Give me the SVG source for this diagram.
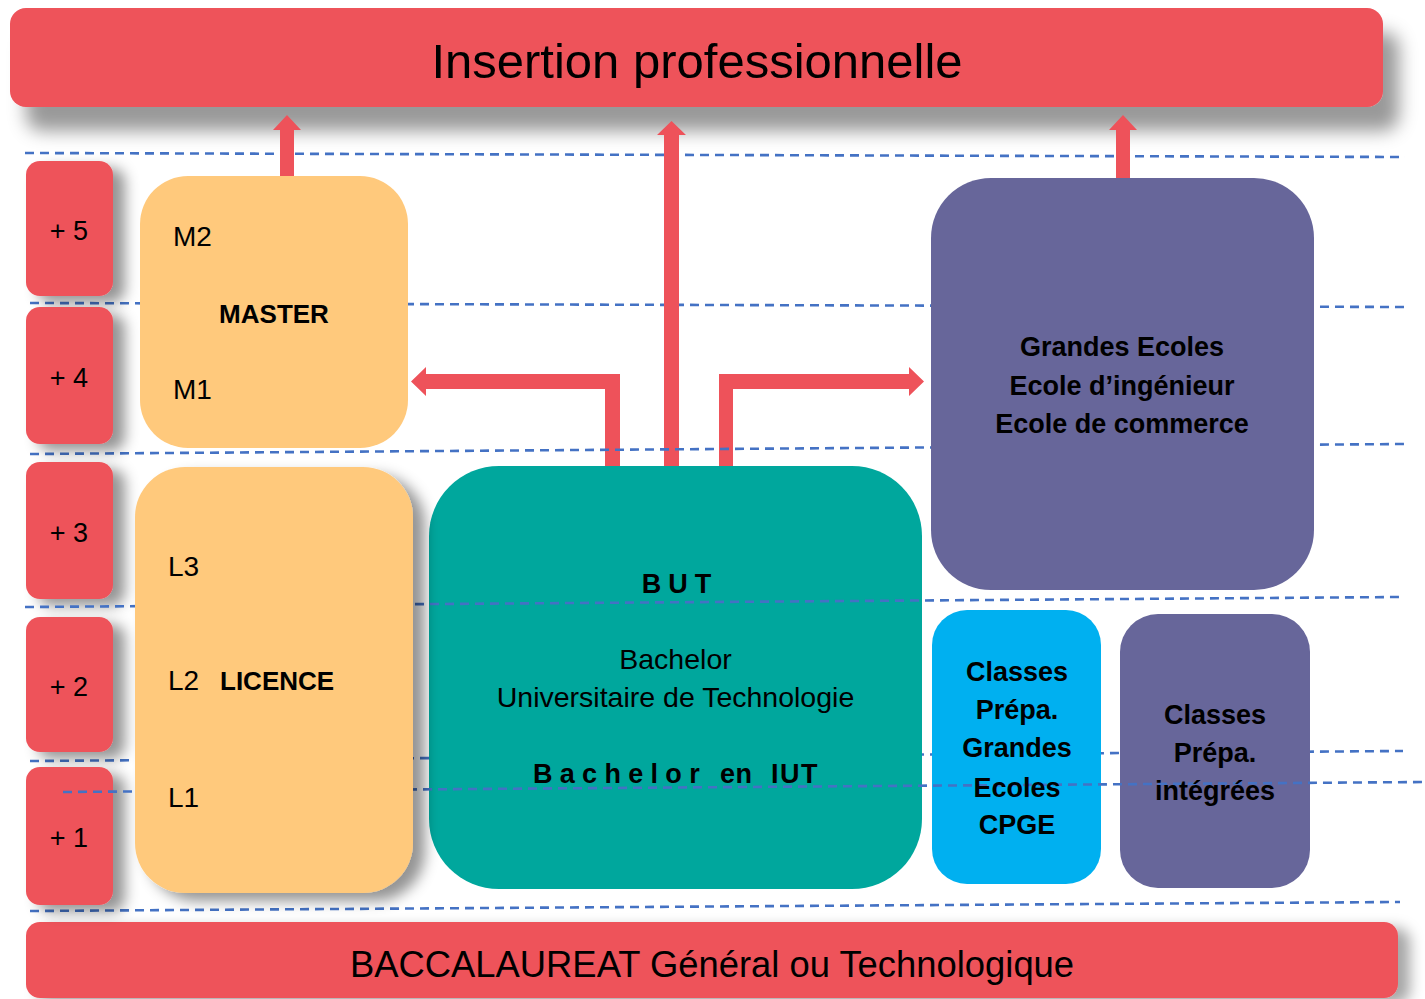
<svg xmlns="http://www.w3.org/2000/svg" width="1425" height="999" viewBox="0 0 1425 999">
<defs>
<filter id="shTop" x="-5%" y="-40%" width="115%" height="220%">
<feDropShadow dx="16" dy="24" stdDeviation="9" flood-color="#000" flood-opacity="0.4"/>
</filter>
<filter id="shBox" x="-30%" y="-30%" width="180%" height="160%">
<feDropShadow dx="12" dy="7" stdDeviation="7" flood-color="#000" flood-opacity="0.42"/>
</filter>
<filter id="shLic" x="-20%" y="-10%" width="140%" height="130%">
<feDropShadow dx="12" dy="8" stdDeviation="7" flood-color="#000" flood-opacity="0.42"/>
</filter>
<filter id="shBot" x="-5%" y="-30%" width="115%" height="180%">
<feDropShadow dx="12" dy="6" stdDeviation="7" flood-color="#000" flood-opacity="0.35"/>
</filter>
</defs>
<style>
.red{fill:#EE525A}
.orange{fill:#FFC97C}
.teal{fill:#00A79D}
.purple{fill:#67669A}
.cyan{fill:#00B0F0}
.dash{fill:none;stroke:#4472C4;stroke-width:2.6;stroke-dasharray:9 6}
.arrow{fill:#EE525A}
text{font-family:"Liberation Sans",Arial,sans-serif;fill:#000}
.lbl{font-size:27px;text-anchor:middle}
.reg{font-size:28px}
.bc{font-size:27px;font-weight:bold;text-anchor:middle}
</style>
<rect width="1425" height="999" fill="#fff"/>

<g id="insertion">
<rect class="red" x="10" y="8" width="1373" height="99" rx="16" filter="url(#shTop)"/>
<text x="697" y="78" font-size="49" text-anchor="middle">Insertion professionnelle</text>
</g>

<g id="bac">
<rect class="red" x="26" y="922" width="1372" height="76" rx="14" filter="url(#shBot)"/>
<text x="712" y="977" font-size="36.4" text-anchor="middle">BACCALAUREAT Général ou Technologique</text>
</g>

<g id="levels-back">
<path class="dash" d="M25 153 L1405 157"/>
<path class="dash" d="M30 303 L1405 307"/>
<path class="dash" d="M30 761 L1403 751"/>
<path class="dash" d="M30 911 L1400 902"/>
</g>

<g id="connectors">
<polygon class="arrow" points="280,176 280,130 273,130 287,115 301,130 294,130 294,176"/>
<polygon class="arrow" points="664,466 664,135 657,135 671.5,121 686,135 679,135 679,466"/>
<polygon class="arrow" points="1116,178 1116,130 1109,130 1123,115 1137,130 1130,130 1130,178"/>
<polygon class="arrow" points="605,466 605,389 426,389 426,396 411,381.5 426,367 426,374 620,374 620,466"/>
<polygon class="arrow" points="719,466 719,374 909,374 909,367 924,381.5 909,396 909,389 733,389 733,466"/>
</g>

<g id="level-line-3">
<path class="dash" d="M30 454 L1405 444"/>
</g>

<g id="plus5"><rect class="red" x="26" y="161" width="87" height="135" rx="14" filter="url(#shBox)"/><text class="lbl" x="69" y="240">+ 5</text></g>
<g id="plus4"><rect class="red" x="26" y="307" width="87" height="137" rx="14" filter="url(#shBox)"/><text class="lbl" x="69" y="387">+ 4</text></g>
<g id="plus3"><rect class="red" x="26" y="462" width="87" height="137" rx="14" filter="url(#shBox)"/><text class="lbl" x="69" y="542">+ 3</text></g>
<g id="plus2"><rect class="red" x="26" y="617" width="87" height="135" rx="14" filter="url(#shBox)"/><text class="lbl" x="69" y="696">+ 2</text></g>
<g id="plus1"><rect class="red" x="26" y="767" width="87" height="138" rx="14" filter="url(#shBox)"/><text class="lbl" x="69" y="847">+ 1</text></g>

<g id="master">
<rect class="orange" x="140" y="176" width="268" height="272" rx="48"/>
<text class="reg" x="173" y="246">M2</text>
<text x="274" y="323" font-size="26" font-weight="bold" text-anchor="middle">MASTER</text>
<text class="reg" x="173" y="399">M1</text>
</g>

<g id="but">
<rect class="teal" x="429" y="466" width="493" height="423" rx="70"/>
</g>

<g id="grandes-ecoles">
<rect class="purple" x="931" y="178" width="383" height="412" rx="60"/>
<text class="bc" x="1122" y="356">Grandes Ecoles</text>
<text class="bc" x="1122" y="395">Ecole d’ingénieur</text>
<text class="bc" x="1122" y="433">Ecole de commerce</text>
</g>

<g id="cpge">
<rect class="cyan" x="932" y="610" width="169" height="274" rx="35"/>
</g>

<g id="prepa-integrees">
<rect class="purple" x="1120" y="614" width="190" height="274" rx="38"/>
</g>

<g id="levels-front">
<path class="dash" d="M25 607 L1400 597"/>
<path class="dash" d="M63 792 L1425 782"/>
</g>

<g id="licence">
<rect class="orange" x="135" y="467" width="278" height="426" rx="50" filter="url(#shLic)"/>
<text class="reg" x="168" y="576">L3</text>
<text class="reg" x="168" y="690">L2</text>
<text x="220" y="690" font-size="26" font-weight="bold">LICENCE</text>
<text class="reg" x="168" y="807">L1</text>
</g>

<g id="but-text">
<text x="680" y="593" font-size="27" font-weight="bold" letter-spacing="7" text-anchor="middle">BUT</text>
<text x="675.5" y="669" font-size="28.5" text-anchor="middle">Bachelor</text>
<text x="675.5" y="707" font-size="28.5" text-anchor="middle">Universitaire de Technologie</text>
<text y="783" font-size="27" font-weight="bold"><tspan x="533" letter-spacing="7.3">Bachelor</tspan><tspan x="720" letter-spacing="0.5">en</tspan><tspan x="771" letter-spacing="1.5">IUT</tspan></text>
</g>

<g id="cpge-text">
<text class="bc" x="1017" y="681">Classes</text>
<text class="bc" x="1017" y="719">Prépa.</text>
<text class="bc" x="1017" y="757">Grandes</text>
<text class="bc" x="1017" y="797">Ecoles</text>
<text class="bc" x="1017" y="834">CPGE</text>
</g>

<g id="integrees-text">
<text class="bc" x="1215" y="724">Classes</text>
<text class="bc" x="1215" y="762">Prépa.</text>
<text class="bc" x="1215" y="800">intégrées</text>
</g>
</svg>
